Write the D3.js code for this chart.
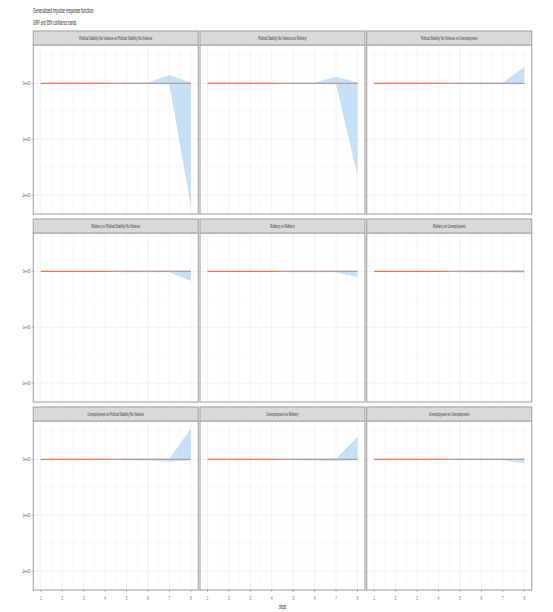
<!DOCTYPE html>
<html>
<head>
<meta charset="utf-8">
<script src="https://cdn.jsdelivr.net/npm/d3@7"></script>
<style>
  html, body { margin: 0; padding: 0; background: #fff; }
  svg { display: block; font-family: "Liberation Sans", Arial, sans-serif; }
</style>
</head>
<body>
<svg id="chart" width="553" height="612"></svg>
<script>
// Forecast horizon
const steps = [1, 2, 3, 4, 5, 6, 7, 8];

// Facet titles (impulse on response), row by row
const panelTitles = [
  "Political Stability No Violence on Political Stability No Violence",
  "Political Stability No Violence on Robbery",
  "Political Stability No Violence on Unemployment",
  "Robbery on Political Stability No Violence",
  "Robbery on Robbery",
  "Robbery on Unemployment",
  "Unemployment on Political Stability No Violence",
  "Unemployment on Robbery",
  "Unemployment on Unemployment"
];

// Point estimates of the GIRF per panel
const girf = [
  [0, 0, 0, 0, 0, 0, 0, 0],
  [0, 0, 0, 0, 0, 0, 0, 0],
  [0, 0, 0, 0, 0, 0, 0, 0],
  [0, 0, 0, 0, 0, 0, 0, 0],
  [0, 0, 0, 0, 0, 0, 0, 0],
  [0, 0, 0, 0, 0, 0, 0, 0],
  [0, 0, 0, 0, 0, 0, 0, 0],
  [0, 0, 0, 0, 0, 0, 0, 0],
  [0, 0, 0, 0, 0, 0, 0, 0]
];

// Lower 95% bound per panel
const lower = [
  [0, 0, 0, 0, -0.015, -0.015, -0.015, -2.2],
  [0, 0, 0, 0, -0.015, -0.015, -0.015, -1.65],
  [0, 0, 0, 0, -0.015, -0.015, -0.015, -0.015],
  [0, 0, 0, 0, -0.015, -0.015, -0.015, -0.17],
  [0, 0, 0, 0, -0.015, -0.015, -0.015, -0.1],
  [0, 0, 0, 0, -0.015, -0.015, -0.015, -0.025],
  [0, 0, 0, 0, -0.015, -0.018, -0.04, -0.015],
  [0, 0, 0, 0, -0.015, -0.018, -0.03, -0.015],
  [0, 0, 0, 0, -0.015, -0.015, -0.015, -0.07]
];

// Upper 95% bound per panel
const upper = [
  [0, 0, 0, 0, 0.015, 0.018, 0.15, 0.015],
  [0, 0, 0, 0, 0.015, 0.018, 0.12, 0.015],
  [0, 0, 0, 0, 0.015, 0.015, 0.018, 0.29],
  [0, 0, 0, 0, 0.015, 0.015, 0.015, 0.015],
  [0, 0, 0, 0, 0.015, 0.015, 0.015, 0.015],
  [0, 0, 0, 0, 0.015, 0.015, 0.015, 0.025],
  [0, 0, 0, 0, 0.015, 0.015, 0.018, 0.55],
  [0, 0, 0, 0, 0.015, 0.015, 0.018, 0.4],
  [0, 0, 0, 0, 0.015, 0.015, 0.015, 0.015]
];

// Axis ticks
const yTicks = [0, -1, -2];
const yTickLabels = ["0e+00", "-1e+00", "-2e+00"];
const yMinor = [0.5, -0.5, -1.5];
const xMinor = [1.5, 2.5, 3.5, 4.5, 5.5, 6.5, 7.5];

const title = "Generalized impulse response function";
const subtitle = "GIRF and 95% confidence bands";
const xTitle = "steps";

// ---- layout ----
const svg = d3.select("#chart");
const nCols = 3, nRows = 3;
const left = 33.3, colStep = 166.7, panelW = 165;
const top0 = 31, rowStep = 188, stripH = 14, plotH = 169;
const textScale = 0.46; // condensed text

function label(g, x, y, s, size, anchor, color) {
  return g.append("text")
    .attr("transform", `translate(${x},${y}) scale(${textScale},1)`)
    .attr("text-anchor", anchor)
    .attr("font-size", size)
    .attr("fill", color)
    .text(s);
}

// shared scales with 5% padding
const allVals = lower.flat().concat(upper.flat(), girf.flat());
const [ymin, ymax] = d3.extent(allVals);
const ypad = (ymax - ymin) * 0.05;
const yDomain = [ymin - ypad, ymax + ypad];
const xpad = (d3.max(steps) - d3.min(steps)) * 0.05;
const xDomain = [d3.min(steps) - xpad, d3.max(steps) + xpad];

label(svg, 33, 13, title, 7.6, "start", "#222");
label(svg, 33, 25, subtitle, 6.4, "start", "#222");

panelTitles.forEach((t, i) => {
  const col = i % nCols, row = Math.floor(i / nCols);
  const x0 = left + col * colStep;
  const sTop = top0 + row * rowStep;
  const pTop = sTop + stripH;
  const pBot = pTop + plotH;

  const x = d3.scaleLinear().domain(xDomain).range([x0, x0 + panelW]);
  const y = d3.scaleLinear().domain(yDomain).range([pBot, pTop]);

  const g = svg.append("g");

  g.append("rect").attr("x", x0).attr("y", pTop).attr("width", panelW).attr("height", plotH)
    .attr("fill", "#fff");

  // minor grid
  g.selectAll(null).data(xMinor).join("line")
    .attr("x1", d => x(d)).attr("x2", d => x(d)).attr("y1", pTop).attr("y2", pBot)
    .attr("stroke", "#f3f3f3").attr("stroke-width", 0.5);
  g.selectAll(null).data(yMinor).join("line")
    .attr("x1", x0).attr("x2", x0 + panelW).attr("y1", d => y(d)).attr("y2", d => y(d))
    .attr("stroke", "#f3f3f3").attr("stroke-width", 0.5);
  // major grid
  g.selectAll(null).data(steps).join("line")
    .attr("x1", d => x(d)).attr("x2", d => x(d)).attr("y1", pTop).attr("y2", pBot)
    .attr("stroke", "#ececec").attr("stroke-width", 0.7);
  g.selectAll(null).data(yTicks).join("line")
    .attr("x1", x0).attr("x2", x0 + panelW).attr("y1", d => y(d)).attr("y2", d => y(d))
    .attr("stroke", "#ececec").attr("stroke-width", 0.7);

  const rows = steps.map((s, k) => ({ s, v: girf[i][k], lo: lower[i][k], hi: upper[i][k] }));

  // GIRF line
  g.append("path").datum(rows)
    .attr("d", d3.line().x(d => x(d.s)).y(d => y(d.v)))
    .attr("fill", "none").attr("stroke", "#e27a55").attr("stroke-width", 1.1);

  // confidence band
  g.append("path").datum(rows)
    .attr("d", d3.area().x(d => x(d.s)).y0(d => y(d.lo)).y1(d => y(d.hi)))
    .attr("fill", "#8ec2ee").attr("fill-opacity", 0.5);

  // panel border
  g.append("rect").attr("x", x0).attr("y", pTop).attr("width", panelW).attr("height", plotH)
    .attr("fill", "none").attr("stroke", "#ababab").attr("stroke-width", 1.2);

  // strip
  g.append("rect").attr("x", x0).attr("y", sTop).attr("width", panelW).attr("height", stripH)
    .attr("fill", "#d9d9d9").attr("stroke", "#ababab").attr("stroke-width", 1.2);
  label(g, x0 + panelW / 2, sTop + stripH / 2 + 2, t, 5.8, "middle", "#333");

  // left axis on first column
  if (col === 0) {
    g.selectAll(null).data(yTicks).join("line")
      .attr("x1", x0 - 2).attr("x2", x0).attr("y1", d => y(d)).attr("y2", d => y(d))
      .attr("stroke", "#888").attr("stroke-width", 0.6);
    yTicks.forEach((v, k) => label(g, x0 - 3, y(v) + 2, yTickLabels[k], 5.8, "end", "#555"));
  }
  // bottom axis on last row
  if (row === nRows - 1) {
    g.selectAll(null).data(steps).join("line")
      .attr("x1", d => x(d)).attr("x2", d => x(d)).attr("y1", pBot).attr("y2", pBot + 2)
      .attr("stroke", "#888").attr("stroke-width", 0.6);
    steps.forEach(s => label(g, x(s), pBot + 10, String(s), 6, "middle", "#555"));
  }
});

label(svg, left + (colStep * 2 + panelW) / 2, 609, xTitle, 6.6, "middle", "#222");
</script>
</body>
</html>
